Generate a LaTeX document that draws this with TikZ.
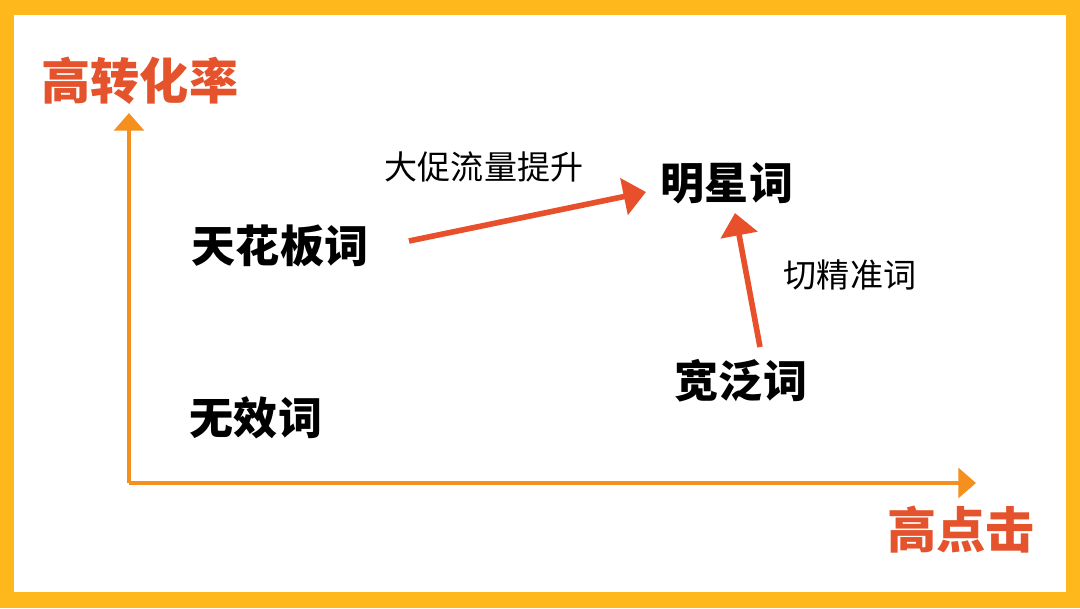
\documentclass[tikz,border=0pt]{standalone}
\usepackage{fontspec}
\newfontfamily\cjk{Noto Sans CJK SC}
\usetikzlibrary{arrows.meta}
\definecolor{rimyellow}{HTML}{FFB81C}
\definecolor{axisorange}{HTML}{F5901E}
\definecolor{labelred}{HTML}{E4532B}
\definecolor{arrowred}{HTML}{E8502C}

\begin{document}
\begin{tikzpicture}[x=0.025cm, y=-0.025cm,
	axis/.style={draw=axisorange, line width=2.8pt, -{Triangle[width=21pt, length=12.5pt]}},
	move/.style={draw=arrowred, line width=4pt, -{Triangle[width=26pt, length=16pt]}},
	axislabel/.style={inner sep=0pt, text=labelred, font=\cjk\bfseries\fontsize{35}{35}\selectfont},
	word/.style={inner sep=0pt, font=\cjk\bfseries\fontsize{31.3}{31.3}\selectfont},
	note/.style={inner sep=0pt, font=\cjk\fontsize{23.5}{23.5}\selectfont}]
				\useasboundingbox (0,0) rectangle (1080,608);
				\fill[rimyellow] (0,0) rectangle (1080,608);
				\fill[white] (14,15) rectangle (1066,592);
				
				% axes
				\coordinate (O) at (129,483);
				\coordinate (ytip) at (129,113);
				\coordinate (xtip) at (976,483);
				\draw[axis] (O) -- (ytip);
				\draw[axis] (O) -- (xtip);
				
				\node[axislabel] (ylab) at (140,81) {高转化率};
				\node[axislabel] (xlab) at (961,530) {高点击};
				
				% quadrants
				\node[word] (ceiling) at (280,246) {天花板词};
				\node[word] (useless) at (256,418) {无效词};
				\node[word] (star) at (727,183) {明星词};
				\node[word] (broad) at (741,381) {宽泛词};
				
				\node[note] (promo) at (484,167) {大促流量提升};
				\node[note] (precise) at (850,275) {切精准词};
				
				% moves
				\coordinate (c1) at (409,241);
				\coordinate (s1) at (646,192);
				\coordinate (b2) at (760,347);
				\coordinate (s2) at (735,213);
				\draw[move] (c1) -- (s1);
				\draw[move] (b2) -- (s2);
			\end{tikzpicture}
\end{document}
